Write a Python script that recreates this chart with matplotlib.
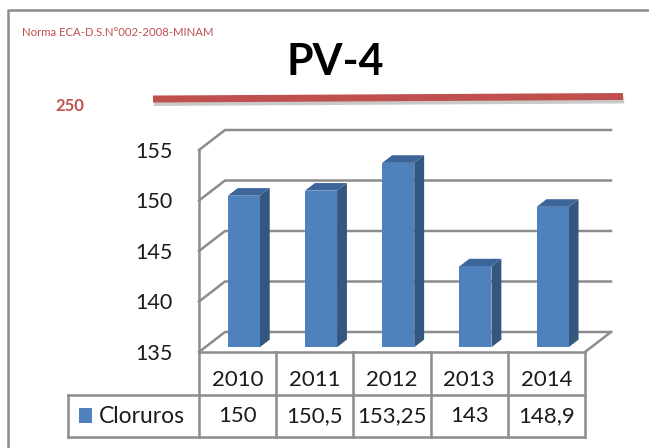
import matplotlib
matplotlib.use('Agg')
import matplotlib.pyplot as plt
import matplotlib.patheffects as pe
import matplotlib.transforms as mtransforms
from matplotlib.patches import Polygon, Rectangle

# Datos
anios = ['2010', '2011', '2012', '2013', '2014']
cloruros = [150, 150.5, 153.25, 143, 148.9]
serie = 'Cloruros'
titulo = 'PV-4'
norma_txt = 'Norma ECA-D.S.N°002-2008-MINAM'
norma_valor = 250
y_ticks = [135, 140, 145, 150, 155]

plt.rcParams['font.family'] = ['Lato', 'DejaVu Sans']

W, H = 649, 448
fig = plt.figure(figsize=(W / 100, H / 100), dpi=100)

gris = '#8c8c8c'
rojo = '#c0504d'
azul = '#4f81bd'
azul_lado = '#34577f'
azul_tope = '#3c6599'

# capa de fondo en pixeles (marco, titulo, linea de la norma)
bg = fig.add_axes([0, 0, 1, 1])
bg.set_xlim(0, W)
bg.set_ylim(H, 0)
bg.axis('off')

bg.plot([8, 8, W], [H, 10, 10], color=gris, lw=1.8)
bg.text(22, 32, norma_txt, fontsize=8.2, color=rojo, va='center', ha='left')
bg.text(335, 62, titulo, fontsize=31, fontweight='bold', ha='center', va='center')
bg.text(70, 106, str(norma_valor), fontsize=12, fontweight='bold', color=rojo,
        ha='center', va='center')
bg.plot([153, 623], [99, 96.5], color=rojo, lw=5, solid_capstyle='butt',
        path_effects=[pe.SimpleLineShadow(offset=(0.8, -2.5), shadow_color='#888888', alpha=0.45),
                      pe.Normal()])

# grafico 3D simulado
ax = fig.add_axes([199 / W, (H - 352) / H, 386 / W, 202 / H])
ax.set_xlim(-0.5, len(anios) - 0.5)
ax.set_ylim(135, 155)
ax.patch.set_alpha(0)
for s in ax.spines.values():
    s.set_visible(False)
ax.set_xticks([])
ax.set_yticks(y_ticks)
ax.tick_params(axis='y', length=0, pad=19, labelsize=15.5, labelcolor='#1a1a1a')

DX = 26 / (386 / 5)
DY = 20 / (202 / 20)
x_ini, x_fin = -0.5, len(anios) - 0.5


def P(x, y, f):
    return (x + f * DX, y + f * DY)


# paredes y rejilla
for v in y_ticks:
    ax.plot([x_ini, x_ini + DX, x_fin + DX], [v, v + DY, v + DY],
            color=gris, lw=1.8, clip_on=False, zorder=1)
ax.plot([x_ini, x_ini], [135, 155], color=gris, lw=1.8, clip_on=False, zorder=1)
ax.plot([x_fin, x_fin + DX], [135, 135 + DY], color=gris, lw=1.8, clip_on=False, zorder=1)
ax.plot([x_ini, x_fin], [135, 135], color=gris, lw=1.8, clip_on=False, zorder=1)

# columnas
f0, f1 = 0.24, 0.62
bw = 0.415
base = 135
for i, v in enumerate(cloruros):
    a, b = i - bw / 2, i + bw / 2
    frente = [P(a, base, f0), P(b, base, f0), P(b, v, f0), P(a, v, f0)]
    lado = [P(b, base, f0), P(b, base, f1), P(b, v, f1), P(b, v, f0)]
    tope = [P(a, v, f0), P(b, v, f0), P(b, v, f1), P(a, v, f1)]
    ax.add_patch(Polygon(lado, closed=True, fc=azul_lado, ec='none', zorder=3, clip_on=False))
    ax.add_patch(Polygon(tope, closed=True, fc=azul_tope, ec='none', zorder=3, clip_on=False))
    ax.add_patch(Polygon(frente, closed=True, fc=azul, ec='none', zorder=4, clip_on=False))

# tabla de datos
tr = mtransforms.blended_transform_factory(ax.transData, ax.transAxes)


def fy(px):
    return (352 - px) / 202


r1, r2 = fy(395), fy(437)
x_ley = x_ini - (199 - 68) / (386 / 5)
kw = dict(color=gris, lw=1.8, transform=tr, clip_on=False)
ax.plot([x_ley, x_fin], [r1, r1], **kw)
ax.plot([x_ley, x_fin], [r2, r2], **kw)
ax.plot([x_ley, x_ley], [r1, r2], **kw)
for k in range(len(anios) + 1):
    xb = x_ini + k
    ax.plot([xb, xb], [0, r2], **kw)

for i, (anio, v) in enumerate(zip(anios, cloruros)):
    ax.text(i, fy(380), anio, transform=tr, ha='center', va='center', fontsize=16, color='#1a1a1a')
    ax.text(i, fy(416), f'{v:g}'.replace('.', ','), transform=tr, ha='center', va='center',
            fontsize=16, color='#1a1a1a')

px_cat = 386 / 5
ax.add_patch(Rectangle((x_ini - (199 - 79) / px_cat, fy(423)), 13 / px_cat, 15 / 202,
                       transform=tr, fc=azul, ec='none', clip_on=False))
ax.text(x_ini - (199 - 99) / px_cat, fy(416), serie, transform=tr, ha='left', va='center',
        fontsize=16.5, color='#1a1a1a')

fig.savefig('out.png', dpi=100)
